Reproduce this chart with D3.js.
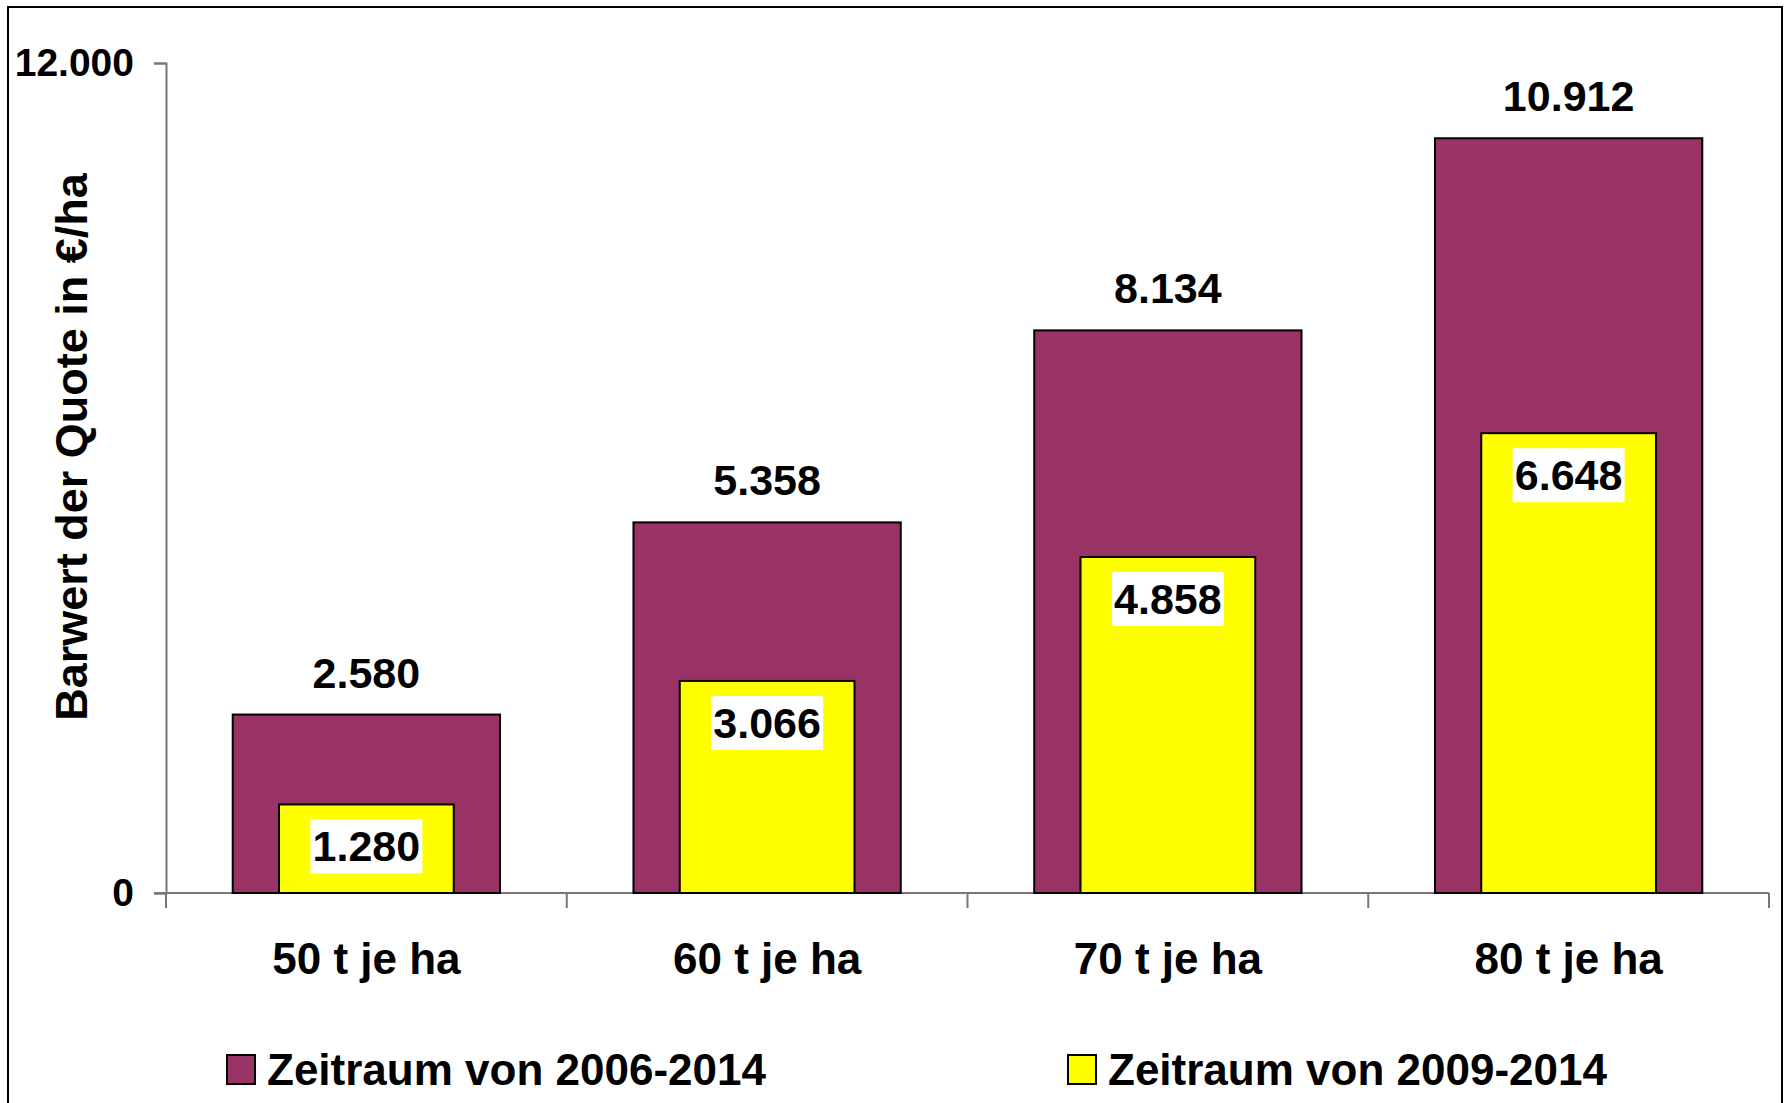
<!DOCTYPE html>
<html>
<head>
<meta charset="utf-8">
<script src="https://d3js.org/d3.v7.min.js"></script>
<style>
  body { margin: 0; background: #fff; }
  svg text { font-family: "Liberation Sans", Arial, sans-serif; font-weight: bold; fill: #000; }
</style>
</head>
<body>
<script>
// chart data
var categories = ["50 t je ha", "60 t je ha", "70 t je ha", "80 t je ha"];
var series2006 = [2580, 5358, 8134, 10912];
var series2009 = [1280, 3066, 4858, 6648];
var seriesNames = ["Zeitraum von 2006-2014", "Zeitraum von 2009-2014"];
var yTicks = [0, 12000];

var W = 1791, H = 1103;
var x0 = 166, x1 = 1769, y0 = 893, y1 = 63;

var fmt = function(v) { return d3.format(",")(v).replace(/,/g, "."); };

var svg = d3.select("body").append("svg")
  .attr("width", W).attr("height", H);

// outer frame
svg.append("rect")
  .attr("x", 8).attr("y", 7)
  .attr("width", 1774).attr("height", 1110)
  .attr("fill", "none").attr("stroke", "#000").attr("stroke-width", 2);

var x = d3.scaleBand().domain(categories).range([x0, x1]).padding(0);
var y = d3.scaleLinear().domain([0, 12000]).range([y0, y1]);

var bw = x.bandwidth();
var wBig = bw * 0.667, wSmall = bw * 0.436;

// axes
var yAxis = svg.append("g")
  .attr("transform", "translate(" + x0 + ",0)")
  .call(d3.axisLeft(y).tickValues(yTicks).tickSize(12).tickPadding(20).tickFormat(fmt));
yAxis.select(".domain").attr("stroke", "#777").attr("stroke-width", 2);
yAxis.selectAll(".tick line").attr("stroke", "#777").attr("stroke-width", 2);
yAxis.selectAll(".tick text").style("font-size", "39px").attr("font-family", null);

var xAxis = svg.append("g")
  .attr("transform", "translate(0," + y0 + ")");
xAxis.append("line")
  .attr("x1", x0 - 12).attr("x2", x1)
  .attr("stroke", "#777").attr("stroke-width", 2);
xAxis.selectAll(".xt").data(categories.concat(["end"]))
  .enter().append("line")
  .attr("x1", function(d, i) { return x0 + bw * i; })
  .attr("x2", function(d, i) { return x0 + bw * i; })
  .attr("y1", 0).attr("y2", 15)
  .attr("stroke", "#777").attr("stroke-width", 2);
xAxis.selectAll(".xl").data(categories)
  .enter().append("text")
  .attr("x", function(d) { return x(d) + bw / 2; })
  .attr("y", 81)
  .attr("text-anchor", "middle")
  .style("font-size", "44px")
  .text(function(d) { return d; });

// purple bars
svg.selectAll(".big").data(series2006)
  .enter().append("rect")
  .attr("x", function(d, i) { return x(categories[i]) + (bw - wBig) / 2; })
  .attr("y", function(d) { return y(d); })
  .attr("width", wBig)
  .attr("height", function(d) { return y0 - y(d); })
  .attr("fill", "#993366").attr("stroke", "#000").attr("stroke-width", 2);

// yellow bars
svg.selectAll(".small").data(series2009)
  .enter().append("rect")
  .attr("x", function(d, i) { return x(categories[i]) + (bw - wSmall) / 2; })
  .attr("y", function(d) { return y(d); })
  .attr("width", wSmall)
  .attr("height", function(d) { return y0 - y(d); })
  .attr("fill", "#ffff00").attr("stroke", "#000").attr("stroke-width", 2);

// labels above purple bars
svg.selectAll(".lbig").data(series2006)
  .enter().append("text")
  .attr("x", function(d, i) { return x(categories[i]) + bw / 2; })
  .attr("y", function(d) { return y(d) - 27; })
  .attr("text-anchor", "middle")
  .style("font-size", "43px")
  .text(fmt);

// labels inside yellow bars with white box
var ls = svg.selectAll(".lsmall").data(series2009)
  .enter().append("g");
ls.append("rect")
  .attr("x", function(d, i) { return x(categories[i]) + bw / 2 - 56; })
  .attr("y", function(d) { return y(d) + 15; })
  .attr("width", 112).attr("height", 54)
  .attr("fill", "#fff");
ls.append("text")
  .attr("x", function(d, i) { return x(categories[i]) + bw / 2; })
  .attr("y", function(d) { return y(d) + 57; })
  .attr("text-anchor", "middle")
  .style("font-size", "43px")
  .text(fmt);

// y axis title
svg.append("text")
  .attr("transform", "translate(87,447) rotate(-90)")
  .attr("text-anchor", "middle")
  .style("font-size", "45px")
  .text("Barwert der Quote in €/ha");

// legend
var legX = [227, 1068];
var legColors = ["#993366", "#ffff00"];
var leg = svg.selectAll(".leg").data(seriesNames)
  .enter().append("g")
  .attr("transform", function(d, i) { return "translate(" + legX[i] + ",1055)"; });
leg.append("rect")
  .attr("width", 28).attr("height", 29)
  .attr("fill", function(d, i) { return legColors[i]; })
  .attr("stroke", "#000").attr("stroke-width", 2);
leg.append("text")
  .attr("x", 40).attr("y", 30)
  .style("font-size", "44px")
  .text(function(d) { return d; });
</script>
</body>
</html>
